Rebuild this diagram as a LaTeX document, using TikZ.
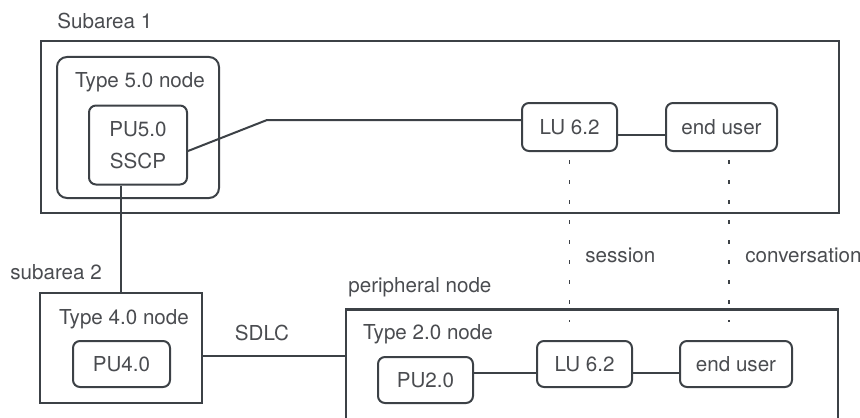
\documentclass[tikz,border=0pt]{standalone}
\usepackage{fontspec}
\setmainfont{TeX Gyre Heros}
\usetikzlibrary{positioning}
\definecolor{ink}{HTML}{3C4146}
\definecolor{txt}{HTML}{4A4C50}

\begin{document}
\begin{tikzpicture}[x=0.5pt,y=-0.5pt,
   every node/.style={text=txt,font=\fontsize{10.3}{12}\selectfont},
   area/.style={draw=ink,line width=1.2pt,inner sep=0pt},
   nodebox/.style={draw=ink,line width=1pt,rounded corners=5pt,inner sep=0pt},
   unit/.style={draw=ink,line width=1pt,rounded corners=3.5pt,inner sep=0pt,minimum height=23pt},
   lbl/.style={inner sep=0pt},
   link/.style={draw=ink,line width=1pt},
   flow/.style={draw=ink,line width=0.6pt,dash pattern=on 2pt off 8pt}]
\useasboundingbox (0,0) rectangle (860,417);
\node[lbl,anchor=west] (lsub1) at (57,21) {Subarea 1};
\node[area,minimum width=399pt,minimum height=86pt] (sub1) at (440,127) {};
\node[nodebox,minimum width=81pt,minimum height=70.5pt] (type5) at (138,127.5) {};
\node[lbl] (ltype5) at (140,82) {Type 5.0 node};
\node[unit,minimum width=49pt,minimum height=39.5pt,align=center] (pu5) at (138,145) {PU5.0\\[4pt]SSCP};
\node[unit,minimum width=47.5pt,minimum height=24pt] (lu1) at (569.5,127) {LU 6.2};
\node[unit,minimum width=55.5pt,minimum height=24pt] (eu1) at (721.5,127) {end user};
\coordinate (bend) at (267,120);
\draw[link] ([yshift=-3pt]pu5.east) -- (bend) -- (bend -| lu1.west);
\draw[link] ([yshift=-4pt]lu1.east) -- ([yshift=-4pt]eu1.west);
\coordinate (send) at (569.5,322);
\coordinate (cend) at (729,322);
\draw[flow] ([yshift=-4pt]lu1.south) -- (send);
\draw[flow] ([xshift=3.75pt,yshift=-4pt]eu1.south) -- (cend);
\node[lbl,anchor=west] (lsess) at (585,255) {session};
\node[lbl,anchor=west] (lconv) at (745,255) {conversation};
\node[lbl,anchor=west] (lsub2) at (10,272) {subarea 2};
\node[area,minimum width=81pt,minimum height=55pt] (type4) at (121,348) {};
\node[lbl] (ltype4) at (124,319) {Type 4.0 node};
\node[unit,minimum width=48.5pt] (pu4) at (121.5,364) {PU4.0};
\draw[link] (type4.north) -- (type4.north |- pu5.south);
\node[lbl] (lsdlc) at (262,333) {SDLC};
\node[lbl,anchor=west] (lper) at (348,287) {peripheral node};
\node[area,minimum width=246pt,minimum height=75pt] (per) at (592,384.5) {};
\draw[link] ([yshift=-4pt]type4.east) -- ([yshift=-4pt]type4.east -| per.west);
\node[lbl] (ltype2) at (428,334) {Type 2.0 node};
\node[unit,minimum width=47.5pt] (pu2) at (425.5,380) {PU2.0};
\node[unit,minimum width=47.5pt] (lu2) at (584.5,364) {LU 6.2};
\node[unit,minimum width=56pt] (eu2) at (736,364) {end user};
\draw[link] ([yshift=-4.5pt]lu2.west) -- ([yshift=-4.5pt]lu2.west -| pu2.east);
\draw[link] ([yshift=-4.5pt]lu2.east) -- ([yshift=-4.5pt]eu2.west);
\end{tikzpicture}
\end{document}
